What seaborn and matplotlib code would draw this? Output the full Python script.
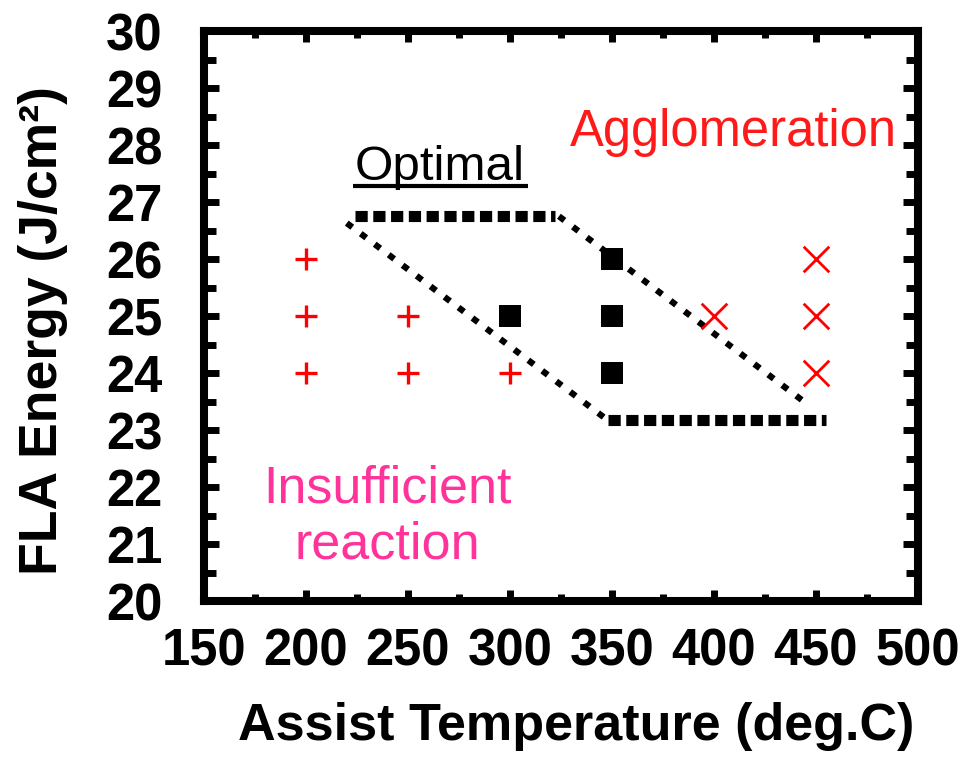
import matplotlib
matplotlib.use("Agg")
import matplotlib.pyplot as plt
from matplotlib.ticker import MultipleLocator
from matplotlib.lines import Line2D
import seaborn as sns
import pandas as pd

# Process map: assist temperature (deg.C) vs. FLA energy (J/cm^2)
temp_insufficient = [200, 200, 200, 250, 250, 300]
energy_insufficient = [24, 25, 26, 24, 25, 24]
temp_optimal = [300, 350, 350, 350]
energy_optimal = [25, 24, 25, 26]
temp_agglomeration = [400, 450, 450, 450]
energy_agglomeration = [25, 24, 25, 26]

# Boundary of the optimal process window (temperature, energy)
window_top_t = [224, 322]
window_top_e = [26.75, 26.75]
window_bottom_t = [348, 455]
window_bottom_e = [23.17, 23.17]
window_left_t = [220, 348]
window_left_e = [26.63, 23.17]
window_right_t = [324, 447]
window_right_e = [26.75, 23.42]

x_ticks = [150, 200, 250, 300, 350, 400, 450, 500]
y_ticks = [20, 21, 22, 23, 24, 25, 26, 27, 28, 29, 30]

sns.set_theme(style="white")
plt.rcParams["font.family"] = ["Liberation Sans", "DejaVu Sans"]

fig = plt.figure(figsize=(9.59, 7.6), dpi=100)
ax = fig.add_axes([0.2127, 0.2092, 0.7445, 0.7500])

df_ins = pd.DataFrame({"t": temp_insufficient, "e": energy_insufficient})
df_opt = pd.DataFrame({"t": temp_optimal, "e": energy_optimal})
df_agg = pd.DataFrame({"t": temp_agglomeration, "e": energy_agglomeration})

# Window outline: horizontal edges as short dashes, slanted edges as dots
for tt, ee in [(window_top_t, window_top_e), (window_bottom_t, window_bottom_e)]:
    sns.lineplot(x=tt, y=ee, ax=ax, color="black", lw=8, sort=False,
                 estimator=None, linestyle=(0, (1.1, 0.5)),
                 solid_capstyle="butt", dash_capstyle="butt", zorder=2)
for tt, ee in [(window_left_t, window_left_e), (window_right_t, window_right_e)]:
    sns.lineplot(x=tt, y=ee, ax=ax, color="black", lw=4.5, sort=False,
                 estimator=None, linestyle=(0, (1.1, 1.7)),
                 dash_capstyle="butt", zorder=2)

sns.scatterplot(data=df_ins, x="t", y="e", ax=ax, marker="+", s=272,
                color="#ff0000", linewidth=2.4, zorder=3)
sns.scatterplot(data=df_opt, x="t", y="e", ax=ax, marker="s", s=250,
                color="black", linewidth=0, zorder=3)
sns.scatterplot(data=df_agg, x="t", y="e", ax=ax, marker="x", s=340,
                color="#ff0000", linewidth=2.0, zorder=3)

ax.set_xlim(150, 500)
ax.set_ylim(20, 30)
ax.set_xticks(x_ticks)
ax.set_yticks(y_ticks)
ax.xaxis.set_minor_locator(MultipleLocator(25))
ax.yaxis.set_minor_locator(MultipleLocator(0.5))
ax.set_xticklabels([str(v) for v in x_ticks], fontweight="bold")
ax.set_yticklabels([str(v) for v in y_ticks], fontweight="bold")

ax.tick_params(which="both", direction="in", top=True, right=True,
               bottom=True, left=True, width=5, color="black",
               labelcolor="black", labelsize=36.5)
ax.tick_params(axis="x", which="major", length=8, pad=19)
ax.tick_params(axis="x", which="minor", length=5)
ax.tick_params(axis="y", which="major", length=11, pad=30)
ax.tick_params(axis="y", which="minor", length=8.5)

for sp in ax.spines.values():
    sp.set_visible(True)
    sp.set_linewidth(5.8)
    sp.set_color("black")

ax.grid(False)

ax.set_xlabel("Assist Temperature (deg.C)", fontsize=37.5, fontweight="bold",
              color="black")
ax.set_ylabel("FLA Energy (J/cm²)", fontsize=38.5, fontweight="bold",
              color="black")
ax.xaxis.set_label_coords(0.522, -0.178)
ax.yaxis.set_label_coords(-0.19, 0.475)

# Region labels
opt_txt = ax.text(224, 27.39, "Optimal", fontsize=35.5, color="black",
                  ha="left", va="baseline")
ax.text(329.5, 27.98, "Agglomeration", fontsize=36.5, color="#ff1a1a",
        ha="left", va="baseline")
ax.text(240, 20.74, "Insufficient\nreaction", fontsize=37.5, color="#ff3399",
        ha="center", va="baseline", linespacing=1.2, multialignment="center")

# Underline beneath "Optimal", sized from the rendered text
fig.canvas.draw()
bb = opt_txt.get_window_extent()
base_y = ax.transData.transform((224, 27.39))[1] - 6
inv = fig.transFigure.inverted()
(x0, y0) = inv.transform((bb.x0 - 2, base_y))
(x1, _) = inv.transform((bb.x1 + 3, base_y))
fig.add_artist(Line2D([x0, x1], [y0, y0], transform=fig.transFigure,
                      color="black", lw=3, solid_capstyle="butt"))

fig.savefig("out.png", dpi=100, facecolor="white")
